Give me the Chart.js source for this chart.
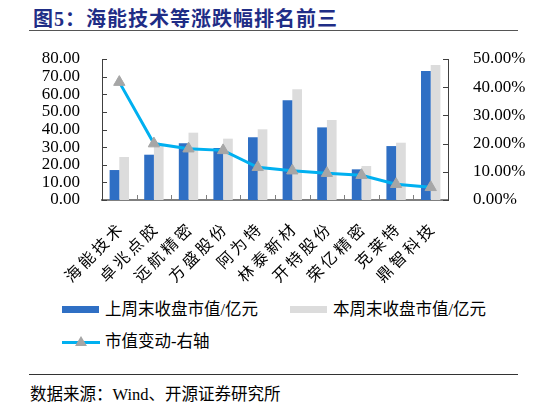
<!DOCTYPE html>
<html>
<head>
<meta charset="utf-8">
<script src="https://cdn.jsdelivr.net/npm/chart.js@4.4.1/dist/chart.umd.min.js"></script>
<style>
  html, body { margin: 0; padding: 0; background: #fff; }
  body { width: 546px; height: 405px; position: relative; overflow: hidden;
         font-family: "Liberation Serif", "Noto Sans CJK SC", serif; color: #000; }
  #title { position: absolute; left: 33px; top: 3px; font-size: 20px; font-weight: bold;
           color: #1f2d86; letter-spacing: 1px; white-space: nowrap; }
  #titleRule { position: absolute; left: 29px; top: 30px; width: 489px; height: 0;
               border-top: 1.5px solid #555; }
  #chartWrap { position: absolute; left: 0; top: 0; width: 546px; height: 290px; }
  .lg { position: absolute; font-size: 16.5px; white-space: nowrap; line-height: 20px; }
  .sw { position: absolute; }
  #srcRule { position: absolute; left: 29px; top: 374px; width: 489px; height: 0;
             border-top: 1px solid #333; }
  #source { position: absolute; left: 30px; top: 381px; font-size: 16.5px; white-space: nowrap; }
</style>
</head>
<body>
<div id="title">图5：海能技术等涨跌幅排名前三</div>
<div id="titleRule"></div>
<div id="chartWrap"><canvas id="c" width="546" height="290"></canvas></div>
<div id="legend"></div>
<div id="srcRule"></div>
<div id="source">数据来源：Wind、开源证券研究所</div>
<script>
// ─── Dane ────────────────────────────────────────────────────────────────────
const categories = ['海能技术', '卓兆点胶', '远航精密', '方盛股份', '阿为特',
                    '林泰新材', '开特股份', '荣亿精密', '克莱特', '鼎智科技'];
const lastWeekCap = [17.0, 25.7, 32.2, 29.5, 35.6, 56.6, 41.2, 17.4, 30.6, 73.2];
const thisWeekCap = [24.4, 30.8, 38.2, 34.8, 40.1, 62.8, 45.4, 19.3, 32.5, 76.6];
const capChangePct = [41.8, 20.0, 18.2, 17.6, 11.6, 10.4, 9.5, 8.8, 5.6, 4.5];
const leftTicks  = [0, 10, 20, 30, 40, 50, 60, 70, 80];
const rightTicks = [0, 10, 20, 30, 40, 50];

const COLORS = {
  lastWeek: '#2f6fc4',
  thisWeek: '#dcdcdc',
  line:     '#00b0f0',
  marker:   '#a6a6a6',
  axis:     '#404040',
  xAxis:    '#7f7f7f',
};

const SERIES_LABELS = ['上周末收盘市值/亿元', '本周末收盘市值/亿元', '市值变动-右轴'];
const TICK_FONT = { family: '"Liberation Serif", serif', size: 17 };
const CAT_FONT  = { family: '"Noto Sans CJK SC", sans-serif', size: 16 };

// ─── Wewnętrzne znaczniki osi (jak w Excelu) ────────────────────────────────
const innerTicks = {
  id: 'innerTicks',
  afterDraw(chart) {
    const ctx = chart.ctx;
    const { x, y, y1 } = chart.scales;
    ctx.save();
    ctx.lineWidth = 1;
    ctx.strokeStyle = COLORS.axis;
    y.ticks.forEach(t => {
      const py = Math.round(y.getPixelForValue(t.value)) + 0.5;
      ctx.beginPath(); ctx.moveTo(y.right, py); ctx.lineTo(y.right + 5, py); ctx.stroke();
    });
    y1.ticks.forEach(t => {
      const py = Math.round(y1.getPixelForValue(t.value)) + 0.5;
      ctx.beginPath(); ctx.moveTo(y1.left - 5, py); ctx.lineTo(y1.left, py); ctx.stroke();
    });
    ctx.strokeStyle = COLORS.xAxis;
    for (let i = 0; i < categories.length - 1; i++) {
      const px = Math.round((x.getPixelForTick(i) + x.getPixelForTick(i + 1)) / 2) + 0.5;
      ctx.beginPath(); ctx.moveTo(px, x.top); ctx.lineTo(px, x.top - 5); ctx.stroke();
    }
    ctx.restore();
  }
};

new Chart(document.getElementById('c'), {
  type: 'bar',
  data: {
    labels: categories,
    datasets: [
      {
        type: 'line',
        label: SERIES_LABELS[2],
        data: capChangePct,
        yAxisID: 'y1',
        borderColor: COLORS.line,
        borderWidth: 3,
        tension: 0,
        pointStyle: 'triangle',
        pointRadius: 6.5,
        pointBackgroundColor: COLORS.marker,
        pointBorderColor: COLORS.marker,
        pointBorderWidth: 1,
        order: 0,
      },
      {
        label: SERIES_LABELS[0],
        data: lastWeekCap,
        yAxisID: 'y',
        backgroundColor: COLORS.lastWeek,
        categoryPercentage: 0.56,
        barPercentage: 1.0,
        order: 1,
      },
      {
        label: SERIES_LABELS[1],
        data: thisWeekCap,
        yAxisID: 'y',
        backgroundColor: COLORS.thisWeek,
        categoryPercentage: 0.56,
        barPercentage: 1.0,
        order: 1,
      },
    ],
  },
  options: {
    responsive: false,
    animation: false,
    layout: { padding: { top: 59, left: 0, right: 0, bottom: 0 } },
    plugins: { legend: { display: false }, tooltip: { enabled: false } },
    scales: {
      x: {
        grid: { display: false },
        border: { color: COLORS.xAxis, width: 2 },
        ticks: {
          color: '#000',
          font: CAT_FONT,
          minRotation: 45,
          maxRotation: 45,
          padding: 12,
          autoSkip: false,
          // rozstrzelone znaki jak w oryginale
          callback: (v, i) => categories[i].split('').join('\u2009'),
        },
        afterFit: s => { s.height = 90; },
      },
      y: {
        position: 'left',
        min: leftTicks[0],
        max: leftTicks[leftTicks.length - 1],
        afterBuildTicks: s => { s.ticks = leftTicks.map(v => ({ value: v })); },
        grid: { display: false },
        border: { color: COLORS.axis, width: 1 },
        ticks: { color: '#000', font: TICK_FONT, padding: 14, autoSkip: false,
                 callback: v => v.toFixed(2) },
        afterFit: s => { s.width = 102; },
      },
      y1: {
        position: 'right',
        min: rightTicks[0],
        max: rightTicks[rightTicks.length - 1],
        afterBuildTicks: s => { s.ticks = rightTicks.map(v => ({ value: v })); },
        grid: { display: false },
        border: { color: COLORS.axis, width: 1 },
        ticks: { color: '#000', font: TICK_FONT, padding: 17, autoSkip: false,
                 callback: v => v.toFixed(2) + '%' },
        afterFit: s => { s.width = 98; },
      },
    },
  },
  plugins: [innerTicks],
});

// ─── Legenda (HTML) ─────────────────────────────────────────────────────────
const legend = document.getElementById('legend');
legend.innerHTML =
  `<div class="sw" style="left:62px;top:306px;width:37px;height:7px;background:${COLORS.lastWeek}"></div>` +
  `<div class="lg" style="left:105px;top:300px">${SERIES_LABELS[0]}</div>` +
  `<div class="sw" style="left:290px;top:306px;width:37px;height:7px;background:${COLORS.thisWeek}"></div>` +
  `<div class="lg" style="left:333px;top:300px">${SERIES_LABELS[1]}</div>` +
  `<div class="sw" style="left:62px;top:341px;width:38px;height:3px;background:${COLORS.line}"></div>` +
  `<div class="sw" style="left:75px;top:336px;width:0;height:0;border-left:6px solid transparent;border-right:6px solid transparent;border-bottom:10px solid ${COLORS.marker}"></div>` +
  `<div class="lg" style="left:105px;top:332px">${SERIES_LABELS[2]}</div>`;
</script>
</body>
</html>
